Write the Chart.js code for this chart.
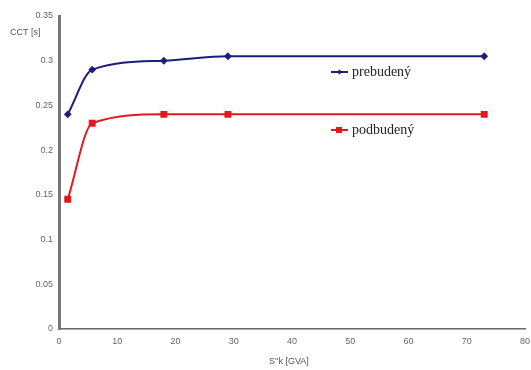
<!DOCTYPE html>
<html><head><meta charset="utf-8">
<script src="https://cdn.jsdelivr.net/npm/chart.js@4/dist/chart.umd.min.js"></script>
<style>html,body{margin:0;padding:0;background:#fff}#wrap{width:531px;height:370px}</style>
</head><body><div id="wrap"><canvas id="c" width="531" height="370"></canvas></div>
<script>
const xValues = [1.5, 5.7, 18, 29, 73];
const prebudeny = [0.24, 0.29, 0.30, 0.305, 0.305];
const podbudeny = [0.145, 0.23, 0.24, 0.24, 0.24];
const seriesNames = ['prebudený', 'podbudený'];
const yTitle = 'CCT [s]';
const xTitle = "S''k [GVA]";

const extra = {
  id: 'extra',
  afterDraw(chart) {
    const ctx = chart.ctx;
    ctx.save();
    ctx.fillStyle = '#555';
    ctx.font = '9px "Liberation Sans", Arial, sans-serif';
    ctx.textBaseline = 'middle';
    ctx.textAlign = 'left';
    ctx.fillText(yTitle, 10, 33);
    ctx.fillText(xTitle, 269, 362);
    const items = [
      {name: seriesNames[0], color: '#1a1f7a', y: 72, style: 'diamond'},
      {name: seriesNames[1], color: '#e0191f', y: 130, style: 'rect'}
    ];
    items.forEach(it => {
      ctx.strokeStyle = it.color; ctx.fillStyle = it.color; ctx.lineWidth = 2;
      ctx.beginPath(); ctx.moveTo(331, it.y); ctx.lineTo(348, it.y); ctx.stroke();
      if (it.style === 'rect') ctx.fillRect(336, it.y - 3, 6, 6);
      else { ctx.beginPath(); ctx.moveTo(339.5, it.y-2.5); ctx.lineTo(342, it.y); ctx.lineTo(339.5, it.y+2.5); ctx.lineTo(337, it.y); ctx.closePath(); ctx.fill(); }
      ctx.fillStyle = '#222';
      ctx.font = '14px "Liberation Serif", "Times New Roman", serif';
      ctx.fillText(it.name, 352, it.y);
    });
    ctx.restore();
  }
};

new Chart(document.getElementById('c'), {
  type: 'line',
  data: {
    datasets: [
      {label: seriesNames[0], data: xValues.map((x,i)=>({x, y: prebudeny[i]})),
       borderColor: '#1a1f7a', backgroundColor: '#1a1f7a', borderWidth: 2,
       pointStyle: 'rectRot', pointRadius: 2.5, tension: 0.4, cubicInterpolationMode: 'monotone'},
      {label: seriesNames[1], data: xValues.map((x,i)=>({x, y: podbudeny[i]})),
       borderColor: '#e0191f', backgroundColor: '#e0191f', borderWidth: 2,
       pointStyle: 'rect', pointRadius: 3.5, tension: 0.4, cubicInterpolationMode: 'monotone'}
    ]
  },
  options: {
    responsive: false, animation: false,
    layout: {padding: {top: 16, right: 6, left: 0, bottom: 0}},
    plugins: {legend: {display: false}, tooltip: {enabled: false}},
    scales: {
      x: {type: 'linear', min: 0, max: 80,
        ticks: {stepSize: 10, color: '#666', font: {size: 9, family: '"Liberation Sans", Arial'}, padding: 4, maxRotation: 0},
        grid: {display: false, drawTicks: true, tickLength: 3, tickColor: '#555'},
        border: {color: '#666', width: 1.5},
        afterFit(s) { s.height = 41; s.paddingRight = 0; s.paddingLeft = 0; }
      },
      y: {min: 0, max: 0.35,
        ticks: {stepSize: 0.05, color: '#666', font: {size: 9, family: '"Liberation Sans", Arial'}, padding: 3,
          callback: v => String(Math.round(v*100)/100)},
        grid: {display: false, drawTicks: true, tickLength: 3, tickColor: '#555'},
        border: {color: '#777', width: 3},
        afterFit(s) { s.width = 59; s.paddingTop = 0; s.paddingBottom = 0; }
      }
    }
  },
  plugins: [extra]
});
</script></body></html>
